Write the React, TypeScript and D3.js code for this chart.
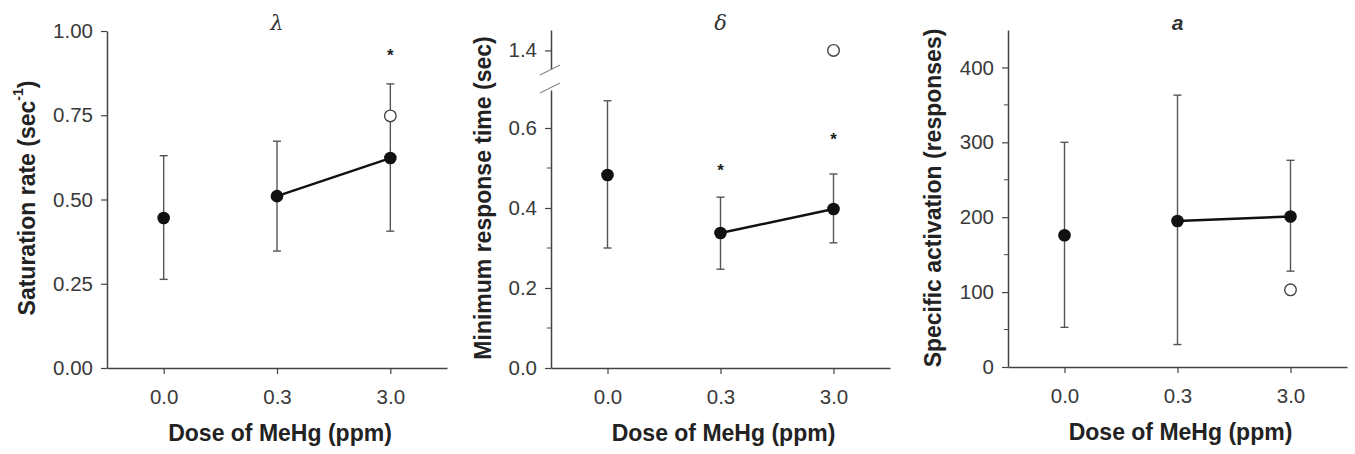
import React, { useEffect, useRef } from 'react';
import * as d3 from 'd3';

// categories
const doses = ['0.0', '0.3', '3.0'];

// lambda panel
const lambdaMean = [0.445, 0.51, 0.623];
const lambdaLow = [0.263, 0.347, 0.406];
const lambdaHigh = [0.63, 0.673, 0.843];
const lambdaOpen = [null, null, 0.748];
const lambdaStar = [null, null, 0.935];
const lambdaTicks = [0, 0.25, 0.5, 0.75, 1.0];

// delta panel
const deltaMean = [0.4825, 0.3375, 0.3975];
const deltaLow = [0.3, 0.247, 0.313];
const deltaHigh = [0.668, 0.427, 0.485];
const deltaOpen = [null, null, 1.4];
const deltaStar = [null, 0.5, 0.578];
const deltaTicks = [0, 0.2, 0.4, 0.6];
const deltaMinor = [0.1, 0.3, 0.5];
const deltaUpperTicks = [1.4];

// a panel
const aMean = [176, 195, 201];
const aLow = [53, 30, 128];
const aHigh = [300, 363, 276];
const aOpen = [null, null, 103];
const aStar = [null, null, null];
const aTicks = [0, 100, 200, 300, 400];
const aMinor = [50, 150, 250, 350];

const FONT = '"Liberation Sans", Arial, sans-serif';

export default function App() {
  const ref = useRef(null);

  useEffect(() => {
    const svg = d3.select(ref.current);
    svg.selectAll('*').remove();

    const panels = [
      {
        left: 107, right: 447, top: 31, bottom: 368,
        domain: [0, 1.0], ticks: lambdaTicks, minor: [], fmt: d3.format('.2f'),
        mean: lambdaMean, low: lambdaLow, high: lambdaHigh, open: lambdaOpen, star: lambdaStar,
        title: 'λ', titleFont: 'DejaVu Serif, serif', titleWeight: 'normal',
        ylabel: 'Saturation rate (sec', sup: '-1', ylabelX: 27,
      },
      {
        left: 551, right: 890, top: 90, bottom: 368,
        domain: [0, 0.695], ticks: deltaTicks, minor: deltaMinor, fmt: d3.format('.1f'),
        mean: deltaMean, low: deltaLow, high: deltaHigh, open: deltaOpen, star: deltaStar,
        upper: { top: 30, bottom: 69, domain: [1.35, 1.455], ticks: deltaUpperTicks },
        title: 'δ', titleFont: 'DejaVu Serif, serif', titleWeight: 'normal',
        ylabel: 'Minimum response time (sec)', ylabelX: 483,
      },
      {
        left: 1008, right: 1347, top: 30, bottom: 367,
        domain: [0, 450], ticks: aTicks, minor: aMinor, fmt: d3.format('d'),
        mean: aMean, low: aLow, high: aHigh, open: aOpen, star: aStar,
        title: 'a', titleFont: FONT, titleWeight: 'bold',
        ylabel: 'Specific activation (responses)', ylabelX: 933,
      },
    ];

    const axisColor = '#444';
    const tickColor = '#3a3a3a';
    const tickFs = 20.5;
    const labelFs = 23;

    panels.forEach((p: any) => {
      const g = svg.append('g');
      const x = d3.scalePoint().domain(doses).range([p.left, p.right]).padding(0.5);
      const y = d3.scaleLinear().domain(p.domain).range([p.bottom, p.top]);
      const yUp = p.upper ? d3.scaleLinear().domain(p.upper.domain).range([p.upper.bottom, p.upper.top]) : null;

      // y axis
      const yAxis = g.append('g').attr('transform', `translate(${p.left},0)`)
        .call(d3.axisLeft(y).tickValues(p.ticks).tickFormat(p.fmt).tickSize(6).tickPadding(8).tickSizeOuter(0));
      yAxis.select('.domain').attr('stroke', axisColor).attr('stroke-width', 1.5);
      yAxis.selectAll('.tick line').attr('stroke', axisColor).attr('stroke-width', 1.2);
      yAxis.selectAll('.tick text').attr('font-family', FONT).attr('font-size', tickFs).attr('fill', tickColor);
      g.append('g').selectAll('line').data(p.minor).enter().append('line')
        .attr('x1', p.left - 4).attr('x2', p.left)
        .attr('y1', (d: number) => y(d)).attr('y2', (d: number) => y(d))
        .attr('stroke', axisColor).attr('stroke-width', 1);

      if (yUp) {
        const up = g.append('g').attr('transform', `translate(${p.left},0)`)
          .call(d3.axisLeft(yUp).tickValues(p.upper.ticks).tickFormat(d3.format('.1f')).tickSize(6).tickPadding(8).tickSizeOuter(0));
        up.select('.domain').attr('stroke', axisColor).attr('stroke-width', 1.5);
        up.selectAll('.tick line').attr('stroke', axisColor).attr('stroke-width', 1.2);
        up.selectAll('.tick text').attr('font-family', FONT).attr('font-size', tickFs).attr('fill', tickColor);
        // break marks
        [p.upper.bottom + 1, p.top - 2].forEach((yy: number) => {
          g.append('line').attr('x1', p.left - 11).attr('x2', p.left + 9)
            .attr('y1', yy + 5).attr('y2', yy - 5)
            .attr('stroke', '#888').attr('stroke-width', 1.2);
        });
      }

      // x axis
      const xAxis = g.append('g').attr('transform', `translate(0,${p.bottom})`)
        .call(d3.axisBottom(x).tickSize(6).tickPadding(15).tickSizeOuter(0));
      xAxis.select('.domain').attr('stroke', axisColor).attr('stroke-width', 1.5);
      xAxis.selectAll('.tick line').attr('stroke', axisColor).attr('stroke-width', 1.2);
      xAxis.selectAll('.tick text').attr('font-family', FONT).attr('font-size', tickFs).attr('fill', tickColor);

      // x label
      g.append('text').attr('x', (p.left + p.right) / 2 + 3).attr('y', p.bottom + 73)
        .attr('text-anchor', 'middle').attr('font-family', FONT).attr('font-size', labelFs)
        .attr('font-weight', 'bold').attr('fill', '#222').text('Dose of MeHg (ppm)');

      // y label
      const yl = g.append('text').attr('transform', `translate(${p.ylabelX},198) rotate(-90)`)
        .attr('text-anchor', 'middle').attr('dominant-baseline', 'central')
        .attr('font-family', FONT).attr('font-size', labelFs).attr('font-weight', 'bold').attr('fill', '#222');
      yl.append('tspan').text(p.ylabel);
      if (p.sup) {
        yl.append('tspan').attr('font-size', 14).attr('dy', -9).text(p.sup);
        yl.append('tspan').attr('dy', 9).text(')');
      }

      // title
      g.append('text').attr('x', x('0.3') as number).attr('y', 30)
        .attr('text-anchor', 'middle').attr('font-family', p.titleFont).attr('font-style', 'italic')
        .attr('font-weight', p.titleWeight).attr('font-size', 21).attr('fill', '#333').text(p.title);

      // error bars
      const eg = g.append('g');
      doses.forEach((d, i) => {
        const cx = x(d) as number;
        eg.append('line').attr('x1', cx).attr('x2', cx).attr('y1', y(p.low[i])).attr('y2', y(p.high[i]))
          .attr('stroke', '#555').attr('stroke-width', 1.4);
        [p.low[i], p.high[i]].forEach((v: number) => {
          eg.append('line').attr('x1', cx - 4).attr('x2', cx + 4).attr('y1', y(v)).attr('y2', y(v))
            .attr('stroke', '#555').attr('stroke-width', 1.4);
        });
      });

      // connecting line (exposed groups)
      const line = d3.line<number>().x((v, i) => x(doses[i + 1]) as number).y((v) => y(v));
      g.append('path').attr('d', line(p.mean.slice(1))).attr('fill', 'none')
        .attr('stroke', '#111').attr('stroke-width', 2.4);

      // means
      g.append('g').selectAll('circle').data(p.mean).enter().append('circle')
        .attr('cx', (v: number, i: number) => x(doses[i]) as number).attr('cy', (v: number) => y(v))
        .attr('r', 6.3).attr('fill', '#111');

      // open circles
      doses.forEach((d, i) => {
        const v = p.open[i];
        if (v == null) return;
        const sc = yUp && v > p.domain[1] ? yUp : y;
        g.append('circle').attr('cx', x(d) as number).attr('cy', sc(v)).attr('r', 5.8)
          .attr('fill', '#fff').attr('stroke', '#444').attr('stroke-width', 1.4);
      });

      // stars
      doses.forEach((d, i) => {
        const v = p.star[i];
        if (v == null) return;
        g.append('text').attr('x', x(d) as number).attr('y', y(v) + 8).attr('text-anchor', 'middle')
          .attr('font-family', FONT).attr('font-size', 17).attr('font-weight', 'bold').attr('fill', '#222').text('*');
      });
    });
  }, []);

  return (
    <svg ref={ref} width={1355} height={454}
      style={{ position: 'absolute', left: 0, top: 0, background: '#fff', display: 'block' }} />
  );
}
